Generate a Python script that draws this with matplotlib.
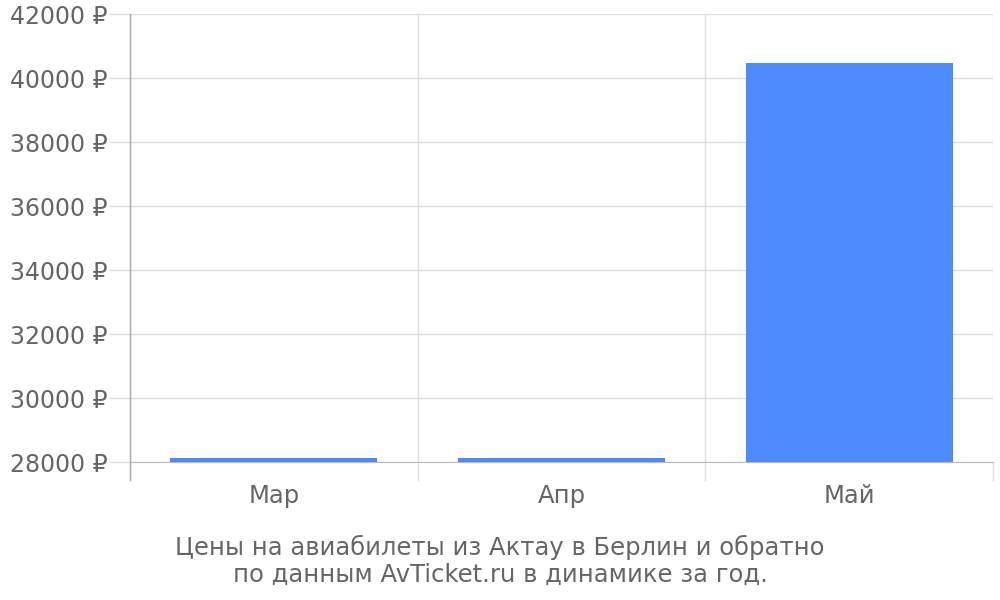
import matplotlib.pyplot as plt
import numpy as np

months = ["Мар", "Апр", "Май"]
prices = [28120, 28120, 40470]
y_ticks = [28000, 30000, 32000, 34000, 36000, 38000, 40000, 42000]
caption = "Цены на авиабилеты из Актау в Берлин и обратно\nпо данным AvTicket.ru в динамике за год."

text_color = "#666666"
grid_color = "#dddddd"
bar_color = "#4d8afb"

fig = plt.figure(figsize=(10, 6), dpi=100)
ax = fig.add_axes([0.130, 1 - 462 / 600, 0.863, 448 / 600])

x = np.arange(len(months))
ax.bar(x, prices, width=0.72, color=bar_color, zorder=3)

ax.set_xlim(-0.5, len(months) - 0.5)
ax.set_ylim(28000, 42000)
ax.set_yticks(y_ticks)
ax.set_yticklabels([f"{v} ₽" for v in y_ticks])
ax.set_xticks(x)
ax.set_xticklabels(months)
ax.set_xticks(np.arange(len(months) + 1) - 0.5, minor=True)

ax.tick_params(axis="y", length=15, width=1, color=grid_color, pad=1,
               labelsize=17, labelcolor=text_color)
ax.tick_params(axis="x", which="major", length=0, pad=16, labelsize=17.5, labelcolor=text_color)
ax.tick_params(axis="x", which="minor", length=13.5, width=1, color=grid_color)

ax.grid(axis="y", color=grid_color, linewidth=1, zorder=0)
ax.grid(axis="x", which="minor", color=grid_color, linewidth=1, zorder=0)

for side in ["top", "right"]:
    ax.spines[side].set_visible(False)
ax.spines["bottom"].set_color("#bbbbbb")
ax.spines["left"].set_visible(False)
# left axis line goes a bit below the plot like the category separators
ax.plot([0, 0], [-18 / 448, 1], transform=ax.transAxes, color="#aaaaaa",
        linewidth=1, clip_on=False, zorder=4)

fig.text(0.5, 1 - 561 / 600, caption, ha="center", va="center",
         fontsize=17.5, color=text_color, linespacing=1.15)

fig.savefig("out.png", dpi=100)
